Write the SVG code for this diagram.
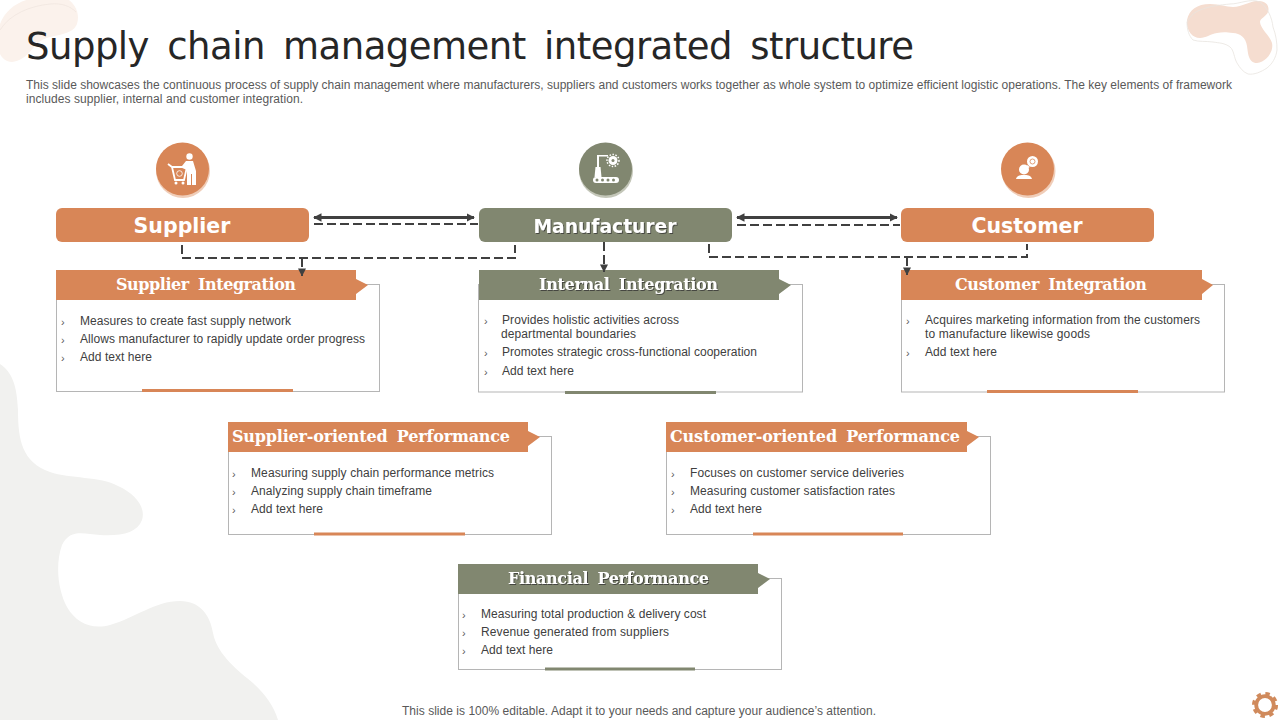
<svg xmlns="http://www.w3.org/2000/svg" width="1280" height="720" viewBox="0 0 1280 720">
<style>
text{font-family:"Liberation Sans",Arial,sans-serif}
.title{font-family:"DejaVu Sans",Verdana,sans-serif;font-size:37px;fill:#262626}
.sub{font-size:12px;fill:#595959}
.foot{font-size:12px;fill:#595959;text-anchor:middle}
.b{font-size:12px;fill:#404040}
.m{font-size:11px;fill:#595959}
.main{font-family:"DejaVu Sans",Verdana,sans-serif;font-weight:700;font-size:20.500px;fill:#fff;text-anchor:middle}
.hd{font-family:"DejaVu Serif",Georgia,serif;font-weight:700;font-size:16px;word-spacing:4px;fill:#fff;text-anchor:middle}
.or{fill:#d88657}.gn{fill:#818770}
.box{fill:#fff;stroke:#b5b5b5;stroke-width:1}
.sh{filter:url(#ts)}
.w{fill:#fff}
.solid{fill:none;stroke:#404040;stroke-width:3}
.dash{fill:none;stroke:#404040;stroke-width:2;stroke-dasharray:9 4}
</style>
<defs>
<marker id="ah" markerWidth="2.800" markerHeight="2.800" refX="2.500" refY="1.400" orient="auto-start-reverse" markerUnits="strokeWidth"><path d="M0 0L2.800 1.400L0 2.800Z" fill="#404040"/></marker>
<marker id="ad" markerWidth="4" markerHeight="4" refX="3.800" refY="2" orient="auto" markerUnits="strokeWidth"><path d="M0 0L4 2L0 4Z" fill="#404040"/></marker>
<filter id="ts" x="-5%" y="-20%" width="110%" height="140%"><feDropShadow dx="1" dy="1" stdDeviation="0.6" flood-color="#333" flood-opacity="0.75"/></filter>
</defs>

<g id="background">
<path d="M0 364C12 372 17 385 18 410C18 440 22 462 50 472C70 479 100 476 118 486C136 494 146 508 142 520C137 533 122 536 100 535C85 534 70 528 62 545C55 565 58 590 67 607C76 623 92 630 110 625C135 618 155 601 180 601C200 601 210 615 213 633C217 655 240 672 253 683C265 694 274 706 278 720L0 720Z" fill="#f1f1ef"/>
<path d="M0 24C6 8 22 -2 40 -2L66 -2C76 4 80 14 77 24C72 36 54 34 42 40C32 46 28 60 12 62C6 62 2 58 0 54Z" fill="#fbf2ec"/>
<path d="M0 30C10 14 30 6 50 4C62 3 70 6 76 12" fill="none" stroke="#f0e6df" stroke-width="0.800"/>
<path d="M1187 20C1189 10 1197 4 1210 4C1220 4 1226 7 1233 7C1242 7 1250 1 1257 1C1266 0 1270 6 1268 12C1266 17 1260 18 1260 22C1260 28 1270 36 1272 43C1274 52 1266 62 1257 63C1248 63 1248 52 1247 46C1246 38 1240 33 1233 33C1226 32 1222 32 1217 33C1210 34 1206 38 1200 38C1192 38 1186 30 1187 20Z" fill="#f5ddd0"/>
<path d="M1187 22C1191 15 1195 12 1200 10C1210 6 1220 5 1230 4C1240 4 1250 -2 1260 2C1268 8 1272 18 1273 27C1276 35 1277 42 1277 50C1276 58 1272 64 1267 68C1261 72 1254 75 1248 74C1243 72 1240 68 1237 63C1234 58 1234 50 1230 47C1225 43 1219 43 1213 42C1206 41 1199 42 1193 40C1189 36 1187 30 1187 22Z" fill="none" stroke="#e8e4e0" stroke-width="0.800"/>
<g id="gear" fill="none" stroke="#d08a5c">
<circle cx="1265" cy="705" r="8.800" stroke-width="3.800"/>
<circle cx="1265" cy="705" r="11.300" stroke-width="3.500" stroke-dasharray="4.400 4.480"/>
</g>
</g>

<g id="heading">
<text class="title" x="26" y="59" textLength="888" lengthAdjust="spacing" word-spacing="7">Supply chain management integrated structure</text>
<text class="sub" x="26" y="89" textLength="1206">This slide showcases the continuous process of supply chain management where manufacturers, suppliers and customers works together as whole system to optimize efficient logistic operations. The key elements of framework</text>
<text class="sub" x="26" y="103" textLength="277">includes supplier, internal and customer integration.</text>
</g>

<g id="node-supplier">
<circle cx="183" cy="171" r="27" fill="#f0cdb8"/>
<circle class="or" cx="182.500" cy="169" r="26.500"/>
<g class="w">
<circle cx="189.500" cy="156.500" r="3.200"/>
<path d="M186 161H193L196 171V185H192V174H191V185H187V170L181 167.500L182 166Z"/>
</g>
<path d="M168 164L172 167H187L184 180H175L172 167" fill="none" stroke="#fff" stroke-width="1.800"/>
<circle class="w" cx="176" cy="183" r="1.500"/><circle class="w" cx="183" cy="183" r="1.500"/>
<circle cx="179.500" cy="173.500" r="2.800" fill="none" stroke="#fff" stroke-width="0.800"/>
<rect class="or" x="56" y="208" width="253" height="34" rx="6"/>
<text class="main" x="182" y="232.500">Supplier</text>
</g>

<g id="node-manufacturer">
<circle cx="606" cy="171" r="27" fill="#c3c6b8"/>
<circle class="gn" cx="605.500" cy="169" r="26.500"/>
<g class="w">
<rect x="597" y="155" width="2" height="12"/><rect x="597" y="155" width="11" height="1.500"/>
<path d="M595.500 167H600.500L601.500 177H594.500Z"/>
<rect x="593" y="177" width="26" height="6" rx="3"/>
<circle cx="613" cy="160.500" r="4.500"/>
<circle cx="613" cy="160.500" r="6" fill="none" stroke="#fff" stroke-width="1.500" stroke-dasharray="1.500 1.500"/>
</g>
<g class="gn"><circle cx="597" cy="180" r="1.500"/><circle cx="602.500" cy="180" r="1.500"/><circle cx="608" cy="180" r="1.500"/><circle cx="613.500" cy="180" r="1.500"/><circle cx="613" cy="160.500" r="1.500"/></g>
<rect class="gn" x="479" y="208" width="253" height="34" rx="6"/>
<text class="main sh" x="605" y="232.500" style="font-size:18.700px">Manufacturer</text>
</g>

<g id="node-customer">
<circle cx="1028.500" cy="171" r="27" fill="#f0cdb8"/>
<circle class="or" cx="1027.500" cy="169" r="26.500"/>
<g class="w">
<circle cx="1032.500" cy="161.500" r="5.500"/>
<path d="M1027 165L1024 170L1030 167Z"/>
<circle cx="1024" cy="169.500" r="5"/>
<path d="M1016 179C1017 175 1021 175 1024 175C1027 175 1031 175 1032 179Z"/>
</g>
<circle cx="1032.500" cy="161.500" r="2.500" fill="none" stroke="#d88657" stroke-width="0.800"/>
<rect class="or" x="901" y="208" width="253" height="34" rx="6"/>
<text class="main" x="1027" y="232.500">Customer</text>
</g>

<g id="node-supplier-integration">
<rect class="box" x="56.500" y="284.500" width="323" height="107"/>
<path class="or" d="M56 270H356V279L368 285L356 294V300H56Z"/>
<rect class="or" x="142" y="389" width="151" height="3"/>
<text class="hd" x="206" y="290" textLength="180">Supplier Integration</text>
<text class="m" x="61" y="326">›</text><text class="b" x="80" y="325" textLength="211">Measures to create fast supply network</text>
<text class="m" x="61" y="344">›</text><text class="b" x="80" y="343" textLength="285">Allows manufacturer to rapidly update order progress</text>
<text class="m" x="61" y="362">›</text><text class="b" x="80" y="361" textLength="72">Add text here</text>
</g>

<g id="node-internal-integration">
<rect class="box" x="478.500" y="284.500" width="324" height="107.500"/>
<path class="gn" d="M479 270H779V279L791 285L779 294V300H479Z"/>
<rect class="gn" x="565" y="391" width="151" height="3"/>
<text class="hd sh" x="628.500" y="290" textLength="179">Internal Integration</text>
<text class="m" x="484" y="325">›</text><text class="b" x="502" y="324" textLength="177">Provides holistic activities across</text>
<text class="b" x="501" y="338" textLength="135">departmental boundaries</text>
<text class="m" x="484" y="357">›</text><text class="b" x="502" y="356" textLength="255">Promotes strategic cross-functional cooperation</text>
<text class="m" x="484" y="376">›</text><text class="b" x="502" y="375" textLength="72">Add text here</text>
</g>

<g id="node-customer-integration">
<rect class="box" x="901.500" y="284.500" width="323" height="107.500"/>
<path class="or" d="M901 270H1202V279L1213 285L1202 294V300H901Z"/>
<rect class="or" x="987" y="390" width="151" height="3"/>
<text class="hd" x="1051" y="290" textLength="192">Customer Integration</text>
<text class="m" x="906" y="325">›</text><text class="b" x="925" y="324" textLength="275">Acquires marketing information from the customers</text>
<text class="b" x="925" y="338" textLength="165">to manufacture likewise goods</text>
<text class="m" x="906" y="357">›</text><text class="b" x="925" y="356" textLength="72">Add text here</text>
</g>

<g id="node-supplier-performance">
<rect class="box" x="228.500" y="436.500" width="323" height="98"/>
<path class="or" d="M228 422H528V431L540 437L528 446V452H228Z"/>
<rect class="or" x="314" y="532.500" width="151" height="3"/>
<text class="hd" x="371" y="442" textLength="278">Supplier-oriented Performance</text>
<text class="m" x="232" y="478">›</text><text class="b" x="251" y="477" textLength="243">Measuring supply chain performance metrics</text>
<text class="m" x="232" y="496">›</text><text class="b" x="251" y="495" textLength="181">Analyzing supply chain timeframe</text>
<text class="m" x="232" y="514">›</text><text class="b" x="251" y="513" textLength="72">Add text here</text>
</g>

<g id="node-customer-performance">
<rect class="box" x="666.500" y="436.500" width="324" height="98"/>
<path class="or" d="M666 422H967V431L979 437L967 446V452H666Z"/>
<rect class="or" x="753" y="532.500" width="150" height="3"/>
<text class="hd" x="815" y="442" textLength="290">Customer-oriented Performance</text>
<text class="m" x="671" y="478">›</text><text class="b" x="690" y="477" textLength="214">Focuses on customer service deliveries</text>
<text class="m" x="671" y="496">›</text><text class="b" x="690" y="495" textLength="205">Measuring customer satisfaction rates</text>
<text class="m" x="671" y="514">›</text><text class="b" x="690" y="513" textLength="72">Add text here</text>
</g>

<g id="node-financial-performance">
<rect class="box" x="458.500" y="578.500" width="323" height="91"/>
<path class="gn" d="M458 564H758V573L770 579L758 588V594H458Z"/>
<rect class="gn" x="545" y="667.500" width="150" height="3"/>
<text class="hd sh" x="608.500" y="584" textLength="201">Financial Performance</text>
<text class="m" x="462" y="619">›</text><text class="b" x="481" y="618" textLength="225">Measuring total production &amp; delivery cost</text>
<text class="m" x="462" y="637">›</text><text class="b" x="481" y="636" textLength="188">Revenue generated from suppliers</text>
<text class="m" x="462" y="655">›</text><text class="b" x="481" y="654" textLength="72">Add text here</text>
</g>

<g id="connectors">
<path class="solid" d="M314 217.500H474" marker-start="url(#ah)" marker-end="url(#ah)"/>
<path class="solid" d="M737 217.500H897" marker-start="url(#ah)" marker-end="url(#ah)"/>
<path class="dash" d="M314 224H478"/>
<path class="dash" d="M737 225H900"/>
<path class="dash" d="M182 245V258H515V245"/>
<path class="dash" d="M709 244V257H1027V244"/>
<path class="dash" d="M302 258V276" stroke-width="1.500" stroke-dasharray="3 2" marker-end="url(#ad)"/>
<path class="dash" d="M604 242V272" marker-end="url(#ad)"/>
<path class="dash" d="M907 257V275" stroke-dasharray="5 2" marker-end="url(#ad)"/>
</g>

<g id="footer">
<text class="foot" x="639" y="715" textLength="474">This slide is 100% editable. Adapt it to your needs and capture your audience’s attention.</text>
</g>
</svg>
